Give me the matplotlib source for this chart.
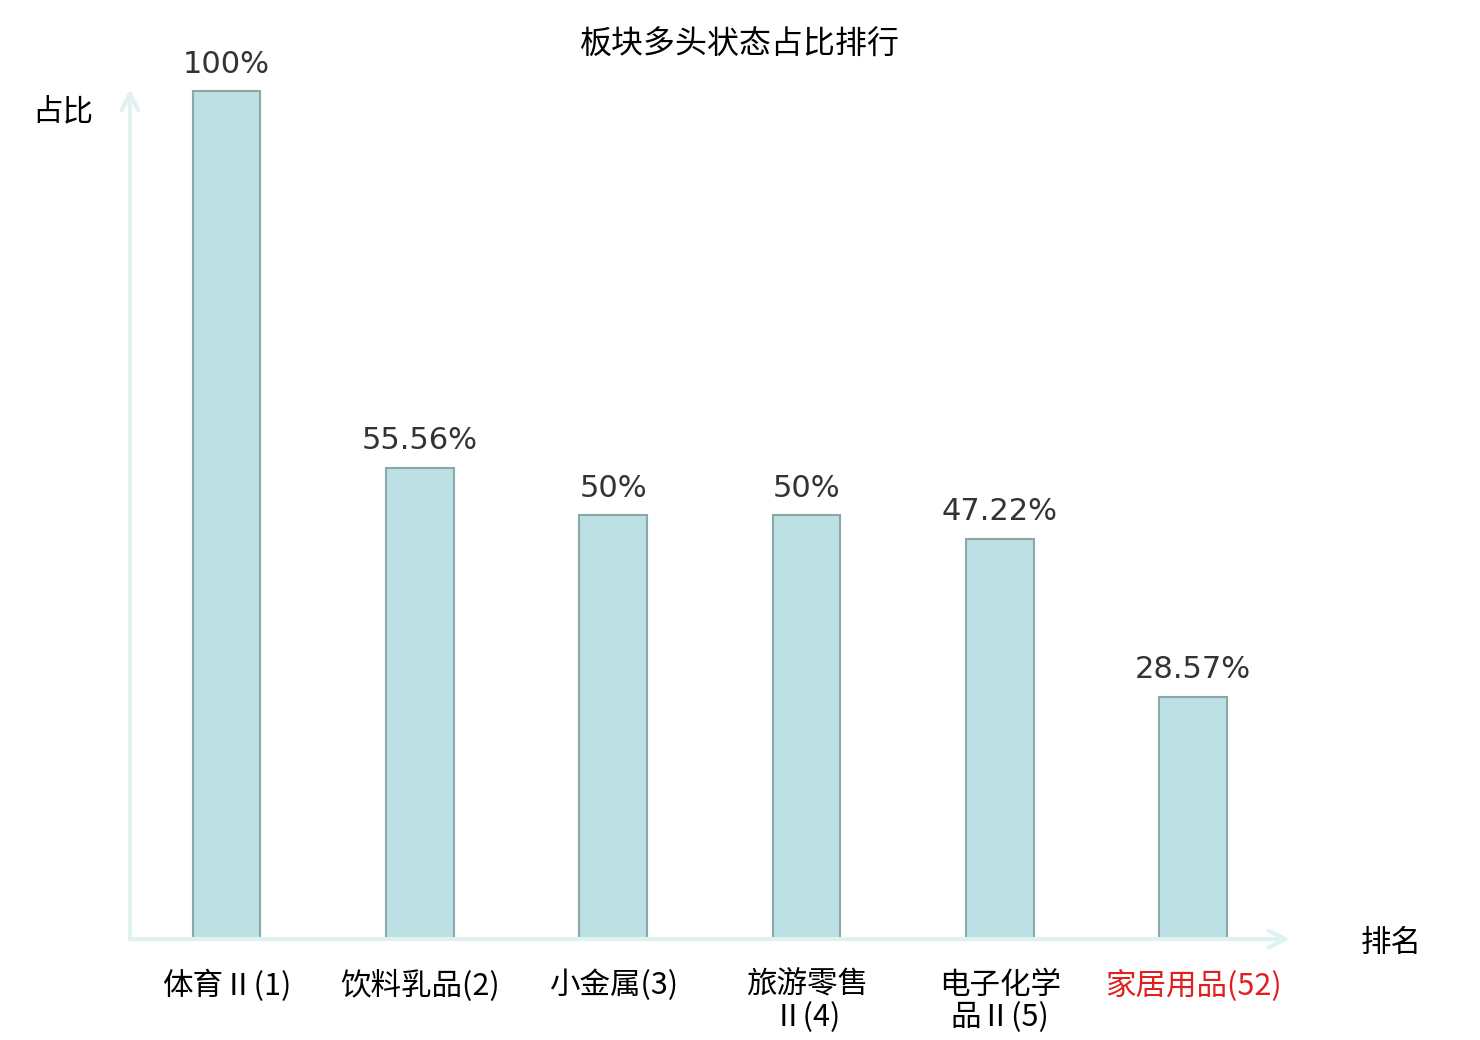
import matplotlib
matplotlib.use('Agg')
import matplotlib.pyplot as plt

plt.rcParams['font.family'] = ['Noto Sans CJK SC', 'DejaVu Sans']

# data
categories = ['体育Ⅱ(1)', '饮料乳品(2)', '小金属(3)', '旅游零售\nⅡ(4)', '电子化学\n品Ⅱ(5)', '家居用品(52)']
ratios = [100, 55.56, 50, 50, 47.22, 28.57]
value_labels = ['100%', '55.56%', '50%', '50%', '47.22%', '28.57%']
label_colors = ['black', 'black', 'black', 'black', 'black', '#e02020']

fig = plt.figure(figsize=(14.8, 10.4), dpi=100)
ax = fig.add_axes([0.0878, 0.0971, 0.7838, 0.8173])

x = list(range(len(categories)))
bars = ax.bar(x, ratios, width=0.35, color='#bce0e3', edgecolor='#8aa8a8', linewidth=1.5)

for xi, v, lab in zip(x, ratios, value_labels):
    ax.annotate(lab, (xi, v), xytext=(0, 9), textcoords='offset points',
                ha='center', va='bottom', fontsize=22, color='#333333',
                family='DejaVu Sans')

ax.set_xlim(-0.5, 5.5)
ax.set_ylim(0, 100.24)

for s in ax.spines.values():
    s.set_visible(False)
ax.set_yticks([])
ax.set_xticks(x)
ax.set_xticklabels(categories, fontsize=22, linespacing=1.07)
ax.tick_params(axis='x', length=0, pad=22)
for t, c in zip(ax.get_xticklabels(), label_colors):
    t.set_color(c)

# axis arrows
axis_color = '#dff2ef'
ax.annotate('', xy=(1.0, 0), xytext=(0, 0), xycoords='axes fraction',
            arrowprops=dict(arrowstyle='->', color=axis_color, lw=3,
                            mutation_scale=30, shrinkA=0, shrinkB=0))
ax.annotate('', xy=(0, 1.0), xytext=(0, 0), xycoords='axes fraction',
            arrowprops=dict(arrowstyle='->', color=axis_color, lw=3,
                            mutation_scale=30, shrinkA=0, shrinkB=0))

fig.text(63 / 1480, 1 - 112 / 1040, '占比', fontsize=22, ha='center', va='center')
fig.text(1391 / 1480, 1 - 943 / 1040, '排名', fontsize=22, ha='center', va='center')
fig.text(740 / 1480, 1 - 45 / 1040, '板块多头状态占比排行', fontsize=23, ha='center', va='center')

fig.savefig('out.png', dpi=100)
